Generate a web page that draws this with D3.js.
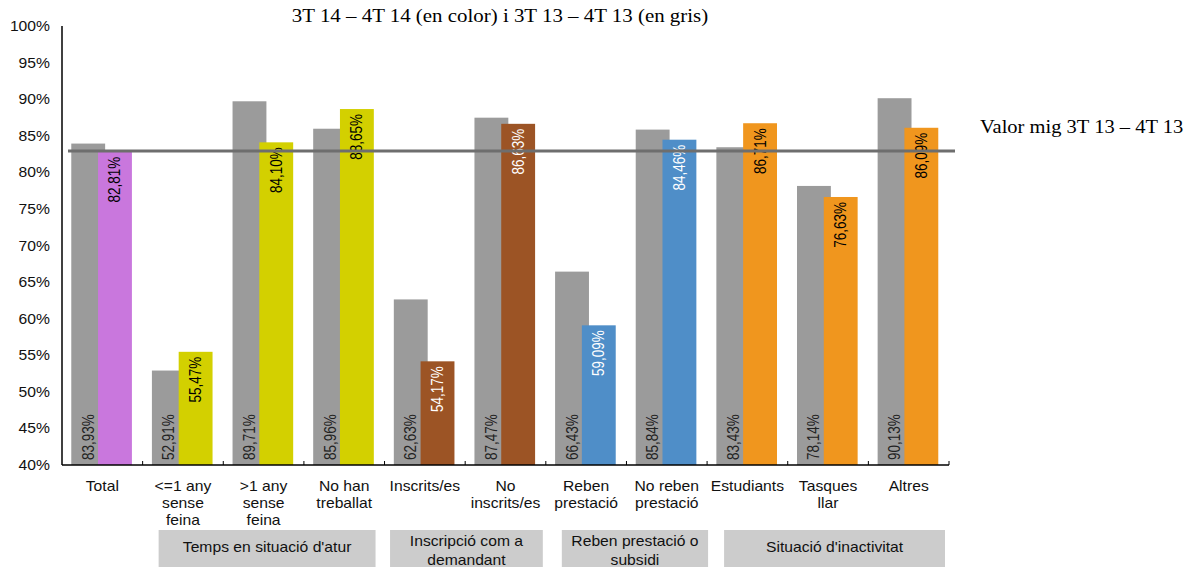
<!DOCTYPE html>
<html><head><meta charset="utf-8">
<script src="https://cdn.jsdelivr.net/npm/d3@7"></script>
<style>body{margin:0;background:#fff}svg{display:block}</style>
</head><body>
<script>
const categories = [["Total"],["<=1 any","sense","feina"],[">1 any","sense","feina"],["No han","treballat"],["Inscrits/es"],["No","inscrits/es"],["Reben","prestació"],["No reben","prestació"],["Estudiants"],["Tasques","llar"],["Altres"]];
const grayValues = [83.93,52.91,89.71,85.96,62.63,87.47,66.43,85.84,83.43,78.14,90.13];
const colorValues = [82.81,55.47,84.10,88.65,54.17,86.63,59.09,84.46,86.71,76.63,86.09];
const barColors = ["#c977dd","#d3d000","#d3d000","#d3d000","#9c5425","#9c5425","#4f8ec8","#4f8ec8","#f0961e","#f0961e","#f0961e"];
const labelColors = ["#000","#000","#000","#000","#fff","#fff","#fff","#fff","#000","#000","#000"];
const meanValue = 82.9;
const yTicks = [40,45,50,55,60,65,70,75,80,85,90,95,100];
const groups = [
  {name:["Temps en situació d'atur"], from:1, to:3},
  {name:["Inscripció com a","demandant"], from:4, to:5},
  {name:["Reben prestació o","subsidi"], from:6, to:7},
  {name:["Situació d'inactivitat"], from:8, to:10}
];
const groupPad = [[16,9],[5.5,3],[16,-1],[17,4]];
const fmt = v => v.toFixed(2).replace(".", ",") + "%";

const W=1187,H=567, SX=1.12;
const SANS="Liberation Sans, Arial, sans-serif", SERIF="Liberation Serif, Times New Roman, serif";
const svg=d3.select("body").append("svg").attr("width",W).attr("height",H);
const x0=62,x1=949,yTop=26,yBot=465;
const x=d3.scaleBand().domain(d3.range(categories.length)).range([x0,x1]).paddingInner(0).paddingOuter(0);
const y=d3.scaleLinear().domain([40,100]).range([yBot,yTop]);
const bw=x.bandwidth();
const barW=bw*0.42, gOff=bw*0.115, cOff=bw*0.447;

function stext(parent, px, py, lines, opts){
  const t=parent.append("text").attr("transform",`translate(${px},${py}) scale(${opts.sx||SX},1)`)
    .attr("text-anchor",opts.anchor||"middle").attr("font-family",opts.family||SANS)
    .attr("font-size",opts.size||14).attr("fill",opts.fill||"#111");
  lines.forEach((s,j)=>t.append("tspan").attr("x",0).attr("y",j*(opts.lh||17)).text(s));
  return t;
}

// title
stext(svg,500,22,["3T 14 – 4T 14 (en color) i 3T 13 – 4T 13 (en gris)"],{family:SERIF,size:19,fill:"#000",sx:1.1});

// y axis labels
const yl=svg.append("g");
yTicks.forEach(d=>stext(yl,50,y(d)+5,[d+"%"],{anchor:"end",size:14}));

// bars
const gBars=svg.append("g");
gBars.selectAll("rect.g").data(grayValues).join("rect").attr("class","g")
  .attr("x",(d,i)=>x(i)+gOff).attr("width",barW).attr("y",d=>y(d)).attr("height",d=>yBot-y(d)).attr("fill","#9b9b9b");
gBars.selectAll("rect.c").data(colorValues).join("rect").attr("class","c")
  .attr("x",(d,i)=>x(i)+cOff).attr("width",barW).attr("y",d=>y(d)).attr("height",d=>yBot-y(d)).attr("fill",(d,i)=>barColors[i]);

// gray labels at bottom
svg.append("g").selectAll("text").data(grayValues).join("text")
  .attr("transform",(d,i)=>`translate(${x(i)+gOff+barW/2+5.5},${yBot-5}) rotate(-90) scale(1,1.17)`)
  .attr("font-family",SANS).attr("font-size",13.5).attr("fill","#222")
  .text(d=>fmt(d));
// color labels at top
svg.append("g").selectAll("text").data(colorValues).join("text")
  .attr("transform",(d,i)=>`translate(${x(i)+cOff+barW/2+5.5},${y(d)+5}) rotate(-90) scale(1,1.17)`)
  .attr("text-anchor","end")
  .attr("font-family",SANS).attr("font-size",13.5).attr("fill",(d,i)=>labelColors[i])
  .text(d=>fmt(d));

// axes lines
svg.append("line").attr("x1",x0).attr("x2",x0).attr("y1",yTop).attr("y2",yBot).attr("stroke","#000").attr("stroke-width",1.5);
svg.append("line").attr("x1",x0).attr("x2",x1).attr("y1",yBot).attr("y2",yBot).attr("stroke","#000").attr("stroke-width",1.5);
svg.append("g").selectAll("line").data(d3.range(1,categories.length+1)).join("line")
  .attr("x1",i=>i<categories.length?x(i):x1).attr("x2",i=>i<categories.length?x(i):x1)
  .attr("y1",yBot-4).attr("y2",yBot).attr("stroke","#000").attr("stroke-width",1);

// mean line
svg.append("line").attr("x1",68).attr("x2",955).attr("y1",y(meanValue)).attr("y2",y(meanValue))
  .attr("stroke","#6e6e6e").attr("stroke-width",3);
stext(svg,980,y(meanValue)-18,["Valor mig 3T 13 – 4T 13"],{anchor:"start",family:SERIF,size:19,fill:"#000",sx:1.08});

// category labels
const cl=svg.append("g");
categories.forEach((d,i)=>stext(cl,x(i)+bw/2,491,d,{size:14,lh:17}));

// group boxes
const gg=svg.append("g");
groups.forEach((d,k)=>{
  const l=x(d.from)+groupPad[k][0], r=x(d.to)+bw-groupPad[k][1];
  gg.append("rect").attr("x",l).attr("width",r-l).attr("y",530).attr("height",37).attr("fill","#cccccc");
  stext(gg,(l+r)/2,d.name.length===1?552:546,d.name,{size:14,lh:19});
});
</script>
</body></html>
